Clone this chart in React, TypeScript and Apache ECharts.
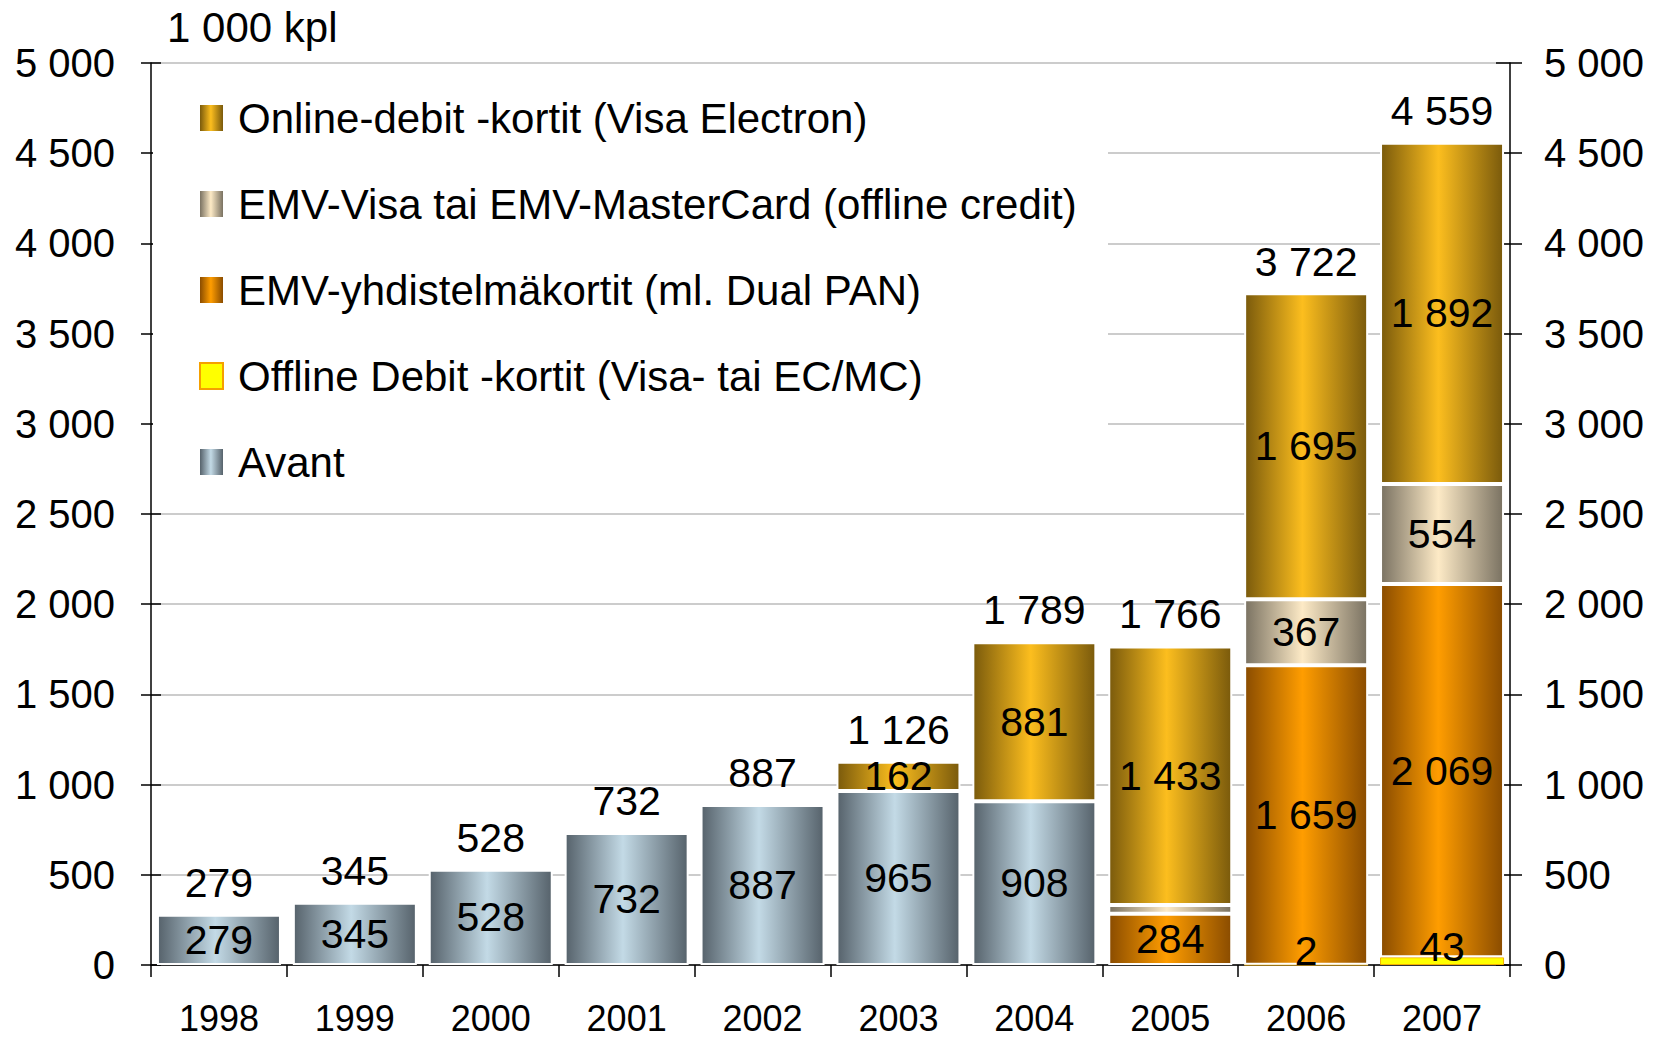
import React, { useEffect, useRef } from "react";
import * as echarts from "echarts";

const years = ["1998", "1999", "2000", "2001", "2002", "2003", "2004", "2005", "2006", "2007"];
const avant = [279, 345, 528, 732, 887, 965, 908, 0, 0, 0];
const offlineDebit = [0, 0, 0, 0, 0, 0, 0, 0, 2, 43];
const emvYhdistelma = [0, 0, 0, 0, 0, 0, 0, 284, 1659, 2069];
const emvVisa = [0, 0, 0, 0, 0, 0, 0, 49, 367, 554];
const onlineDebit = [0, 0, 0, 0, 0, 162, 881, 1433, 1695, 1892];
const totals = [279, 345, 528, 732, 887, 1126, 1789, 1766, 3722, 4559];
const yTicks = { min: 0, max: 5000, interval: 500 };

const N_ONLINE = "Online-debit -kortit (Visa Electron)";
const N_VISA = "EMV-Visa tai EMV-MasterCard (offline credit)";
const N_YHD = "EMV-yhdistelmäkortit (ml. Dual PAN)";
const N_OFF = "Offline Debit -kortit (Visa- tai EC/MC)";
const N_AVANT = "Avant";

const FONT = "Liberation Sans, Arial, sans-serif";

const fmt = (v: number) => String(v).replace(/\B(?=(\d{3})+(?!\d))/g, " ");

const grad = (edge: string, mid: string) =>
  new echarts.graphic.LinearGradient(0, 0, 1, 0, [
    { offset: 0, color: edge },
    { offset: 0.47, color: mid },
    { offset: 1, color: edge },
  ]);

export default function App() {
  const ref = useRef<HTMLDivElement>(null);
  useEffect(() => {
    document.body.style.margin = "0";
    if (!ref.current) return;
    const chart = echarts.init(ref.current, null, { renderer: "svg" });
    const toData = (arr: number[]) => arr.map((v) => (v === 0 ? "-" : v));
    const label = {
      show: true,
      position: "inside" as const,
      color: "#000",
      fontSize: 41,
      fontFamily: FONT,
      formatter: (p: any) => {
        const v = Number(p.value);
        if (!v) return "";
        if (p.seriesName === N_VISA && v < 100) return "";
        return fmt(v);
      },
    };
    const bar = (name: string, arr: number[], color: any, extra: any = {}) => ({
      name,
      type: "bar",
      stack: "s",
      barWidth: 124,
      data: toData(arr),
      itemStyle: { color, borderColor: "#ffffff", borderWidth: 2, ...(extra.itemStyle || {}) },
      label,
      labelLayout: { hideOverlap: false, dy: extra.dy || 0 },
    });
    const axisBase = {
      type: "value",
      min: yTicks.min,
      max: yTicks.max,
      interval: yTicks.interval,
    };
    chart.setOption({
      animation: false,
      backgroundColor: "#ffffff",
      textStyle: { fontFamily: FONT },
      grid: { left: 151, right: 148, top: 63, bottom: 75, containLabel: false },
      legend: {
        orient: "vertical",
        left: 194,
        top: 92,
        icon: "rect",
        itemWidth: 23,
        itemHeight: 26,
        itemGap: 44,
        selectedMode: false,
        textStyle: { fontSize: 42, fontFamily: FONT, color: "#000", lineHeight: 42, padding: [0, 0, 0, 10] },
        data: [
          { name: N_ONLINE, itemStyle: { borderWidth: 0 } },
          { name: N_VISA, itemStyle: { borderWidth: 0 } },
          { name: N_YHD, itemStyle: { borderWidth: 0 } },
          { name: N_OFF, itemStyle: { borderWidth: 2, borderColor: "#f5a000" } },
          { name: N_AVANT, itemStyle: { borderWidth: 0 } },
        ],
      },
      graphic: [
        { type: "rect", z: 1, shape: { x: 153, y: 72, width: 955, height: 428 }, style: { fill: "#ffffff" } },
        {
          type: "text",
          left: 167,
          top: 6,
          style: { text: "1 000 kpl", fontSize: 42, fontFamily: FONT, fill: "#000" },
        },
      ],
      xAxis: {
        type: "category",
        data: years,
        boundaryGap: true,
        axisLine: { show: true, lineStyle: { color: "#000", width: 1.5 } },
        axisTick: { show: true, length: 12, lineStyle: { color: "#000", width: 1.5 } },
        axisLabel: { fontSize: 36, lineHeight: 36, color: "#000", fontFamily: FONT, margin: 35 },
      },
      yAxis: [
        {
          ...axisBase,
          position: "left",
          axisLine: { show: true, lineStyle: { color: "#000", width: 1.5 } },
          axisTick: { show: true, length: 10, lineStyle: { color: "#000", width: 1.5 } },
          axisLabel: { fontSize: 40, color: "#000", fontFamily: FONT, margin: 36, formatter: (v: number) => fmt(v) },
          splitLine: { show: true, lineStyle: { color: "#cccccc", width: 2 } },
        },
        {
          ...axisBase,
          position: "left",
          axisLine: { show: false },
          axisTick: { show: true, inside: true, length: 10, lineStyle: { color: "#000", width: 1.5 } },
          axisLabel: { show: false },
          splitLine: { show: false },
        },
        {
          ...axisBase,
          position: "right",
          axisLine: { show: true, lineStyle: { color: "#000", width: 1.5 } },
          axisTick: { show: true, length: 12, lineStyle: { color: "#000", width: 1.5 } },
          axisLabel: { fontSize: 40, color: "#000", fontFamily: FONT, margin: 34, formatter: (v: number) => fmt(v) },
          splitLine: { show: false },
        },
        {
          ...axisBase,
          position: "right",
          axisLine: { show: false },
          axisTick: { show: true, inside: true, length: 14, lineStyle: { color: "#000", width: 1.5 } },
          axisLabel: { show: false },
          splitLine: { show: false },
        },
      ],
      series: [
        bar(N_AVANT, avant, grad("#56626b", "#c3dae6")),
        bar(N_OFF, offlineDebit, "#ffff00", { dy: -14, itemStyle: { borderColor: "#f5b000", borderWidth: 1 } }),
        bar(N_YHD, emvYhdistelma, grad("#8a4c00", "#ff9d00")),
        bar(N_VISA, emvVisa, grad("#7a7262", "#fdeac6")),
        bar(N_ONLINE, onlineDebit, grad("#7a5a0c", "#fcbe1e")),
        {
          name: "Yhteensä",
          type: "scatter",
          data: totals,
          symbolSize: 1,
          itemStyle: { color: "#ffffff", opacity: 0 },
          label: {
            show: true,
            position: "top",
            distance: 11,
            color: "#000000",
            opacity: 1,
            fontSize: 41,
            fontFamily: FONT,
            formatter: (p: any) => fmt(Number(p.value)),
          },
          z: 5,
        },
      ],
    });
    return () => chart.dispose();
  }, []);
  return <div ref={ref} style={{ width: 1658, height: 1040 }} />;
}
